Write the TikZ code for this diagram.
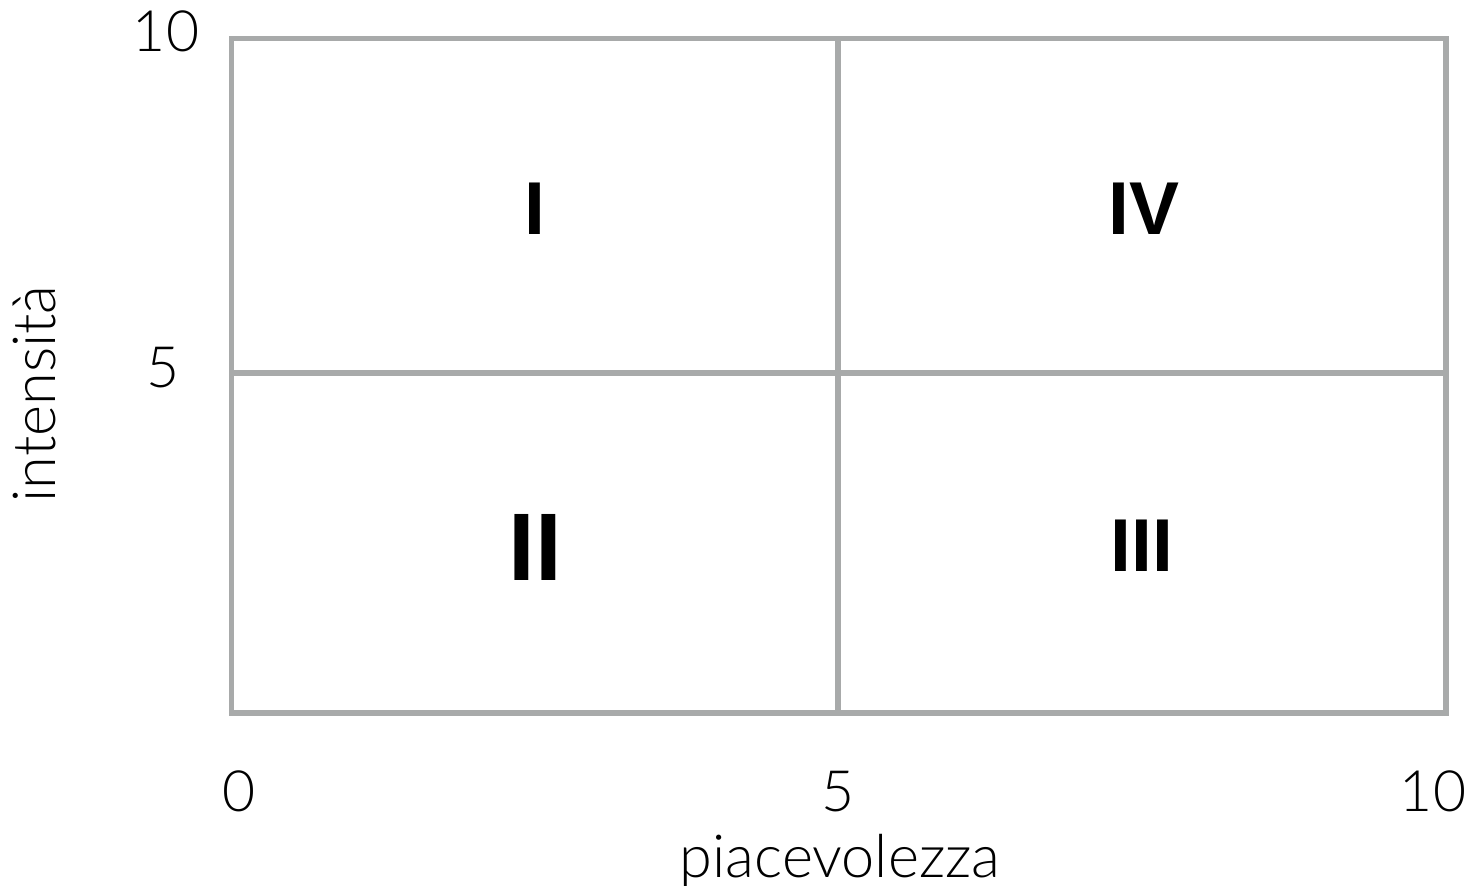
\documentclass[tikz,border=0pt]{standalone}
\usepackage{fontspec}
\setmainfont{Liberation Sans}
\newfontfamily\thinfont{Lato Light}
\definecolor{gridgray}{RGB}{168,170,170}
\begin{document}
\begin{tikzpicture}[x=0.01cm,y=-0.01cm,
  gridline/.style={draw=gridgray,line width=1.45pt},
  ticklbl/.style={font=\thinfont\fontsize{16.2}{18}\selectfont,anchor=base,inner sep=0pt},
  axislbl/.style={font=\thinfont\fontsize{16.9}{19}\selectfont,anchor=base,inner sep=0pt},
  quad/.style={font=\bfseries\fontsize{21.3}{24}\selectfont,anchor=base,inner sep=0pt},
  quadbig/.style={font=\bfseries\fontsize{27.3}{30}\selectfont,anchor=base,inner sep=0pt}]
\useasboundingbox (0,0) rectangle (1473,886);
\coordinate (tl) at (231.5,38.5);
\coordinate (tr) at (1446,38.5);
\coordinate (bl) at (231.5,713);
\coordinate (br) at (1446,713);
\coordinate (tm) at (838,38.5);
\coordinate (bm) at (838,713);
\coordinate (lm) at (231.5,373);
\coordinate (rm) at (1446,373);
\draw[gridline] (tl) -- (tr) -- (br) -- (bl) -- cycle;
\draw[gridline] (tm) -- (bm);
\draw[gridline] (lm) -- (rm);
\node[ticklbl] (y10) at (166,52) {10};
\node[ticklbl] (y5) at (163,388) {5};
\node[ticklbl] (x0) at (239,812) {0};
\node[ticklbl] (x5) at (838,812) {5};
\node[ticklbl] (x10) at (1433,812) {10};
\node[axislbl] (xl) at (840,877) {piacevolezza};
\node[axislbl,rotate=90] (yl) at (55,394) {intensità};
\node[quad] (q1) at (535,235) {I};
\node[quadbig] (q2) at (535,581) {II};
\node[quad] (q3) at (1142,572) {III};
\node[quad] (q4) at (1144,235) {IV};
\end{tikzpicture}
\end{document}
